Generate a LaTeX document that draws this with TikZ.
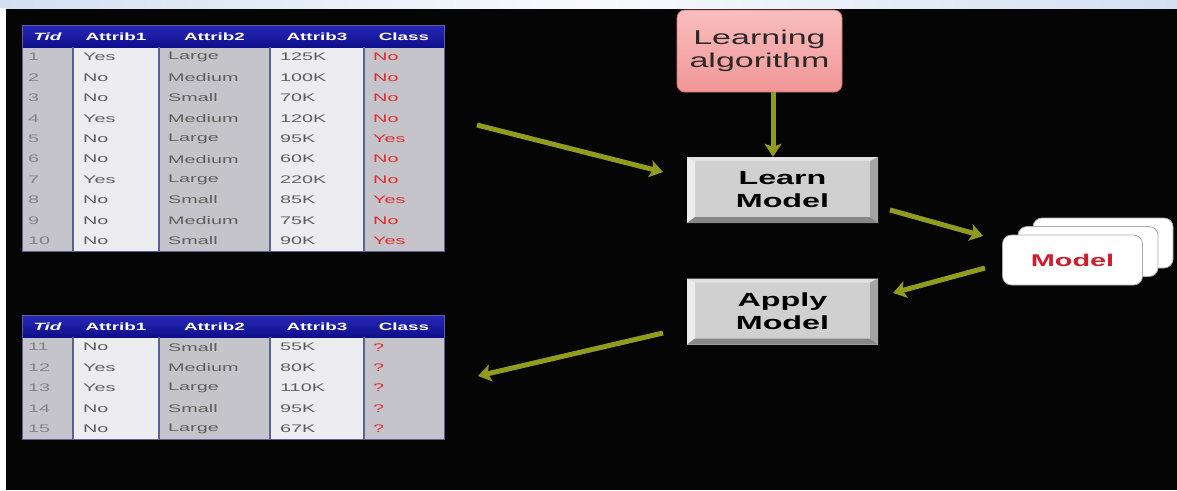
\documentclass[tikz,border=0pt]{standalone}
\usepackage{fontspec}
\setmainfont{Liberation Sans}[FakeStretch=1.7]
\newfontfamily\tabfont{Liberation Sans}[FakeStretch=1.8]
\usetikzlibrary{arrows.meta,calc}
\definecolor{bgblack}{RGB}{5,5,5}
\definecolor{topblue}{RGB}{210,224,242}
\definecolor{hdrtop}{RGB}{40,40,185}
\definecolor{hdrbot}{RGB}{15,15,140}
\definecolor{colgray}{RGB}{196,196,202}
\definecolor{collight}{RGB}{236,236,241}
\definecolor{sepcol}{RGB}{95,95,150}
\definecolor{celltext}{RGB}{95,95,95}
\definecolor{tidtext}{RGB}{130,130,135}
\definecolor{classred}{RGB}{225,45,45}
\definecolor{olivearr}{RGB}{145,155,30}
\definecolor{pinktop}{RGB}{250,190,190}
\definecolor{pinkbot}{RGB}{240,150,150}
\definecolor{pinkdraw}{RGB}{215,110,110}
\definecolor{algtext}{RGB}{45,40,40}
\definecolor{btnface}{RGB}{208,208,208}
\definecolor{btnleft}{RGB}{236,236,236}
\definecolor{btntop}{RGB}{225,225,225}
\definecolor{btnright}{RGB}{165,165,165}
\definecolor{btnbot}{RGB}{135,135,135}
\definecolor{cardedge}{RGB}{170,170,175}
\definecolor{modelred}{RGB}{205,30,45}
\tikzset{
  cell/.style={anchor=west, inner sep=0pt, text=celltext, font=\tabfont\fontsize{11}{13}\selectfont},
  tidcell/.style={cell, text=tidtext},
  classcell/.style={cell, text=classred},
  hdr/.style={inner sep=0pt, text=white, font=\tabfont\bfseries\fontsize{10.5}{12}\selectfont},
  sepline/.style={draw=sepcol, line width=1.2pt},
  tframe/.style={draw=sepcol, line width=1pt},
  arr/.style={draw=olivearr, line width=5pt, -{Stealth[length=13pt,width=17pt,inset=3pt]}},
  algbox/.style={minimum width=165pt, minimum height=82pt, rounded corners=8pt,
    top color=pinktop, bottom color=pinkbot, draw=pinkdraw, line width=0.8pt,
    align=center, text=algtext, font=\fontsize{20}{23}\selectfont},
  button/.style={minimum width=191pt, minimum height=66pt, fill=btnface, inner sep=0pt,
    align=center, text=black, font=\bfseries\fontsize{19}{23}\selectfont,
    path picture={
      \fill[btnleft] (path picture bounding box.north west) -- (path picture bounding box.south west)
        -- ($(path picture bounding box.south west)+(8pt,6pt)$) -- ($(path picture bounding box.north west)+(8pt,-4pt)$) -- cycle;
      \fill[btntop] (path picture bounding box.north west) -- (path picture bounding box.north east)
        -- ($(path picture bounding box.north east)+(-8pt,-4pt)$) -- ($(path picture bounding box.north west)+(8pt,-4pt)$) -- cycle;
      \fill[btnright] (path picture bounding box.north east) -- (path picture bounding box.south east)
        -- ($(path picture bounding box.south east)+(-8pt,6pt)$) -- ($(path picture bounding box.north east)+(-8pt,-4pt)$) -- cycle;
      \fill[btnbot] (path picture bounding box.south west) -- (path picture bounding box.south east)
        -- ($(path picture bounding box.south east)+(-8pt,6pt)$) -- ($(path picture bounding box.south west)+(8pt,6pt)$) -- cycle;
    }},
  card/.style={minimum width=140pt, minimum height=50pt, rounded corners=9pt, fill=white,
    draw=cardedge, line width=0.8pt, inner sep=0pt},
}
\newcommand\mytable[4]{%
  \pgfmathsetmacro\htop{#2}%
  \pgfmathsetmacro\hbot{#2+22}%
  \pgfmathsetmacro\tbot{#2+22+20.4*#3}%
  \fill[colgray] (22,\hbot) rectangle (73,\tbot);
  \fill[collight] (73,\hbot) rectangle (159,\tbot);
  \fill[colgray] (159,\hbot) rectangle (270,\tbot);
  \fill[collight] (270,\hbot) rectangle (364,\tbot);
  \fill[colgray] (364,\hbot) rectangle (444,\tbot);
  \shade[top color=hdrtop, bottom color=hdrbot] (22,\htop) rectangle (444,\hbot);
  \foreach \xx in {73,159,270,364} \draw[sepline] (\xx,\hbot) -- (\xx,\tbot);
  \draw[tframe] (22,\htop) rectangle (444,\tbot);
  \pgfmathsetmacro\hmid{#2+11.5}%
  \node[hdr, font=\tabfont\bfseries\itshape\fontsize{10.5}{12}\selectfont] (#1-h0) at (47.5,\hmid) {Tid};
  \node[hdr] (#1-h1) at (116,\hmid) {Attrib1};
  \node[hdr] (#1-h2) at (214.5,\hmid) {Attrib2};
  \node[hdr] (#1-h3) at (317,\hmid) {Attrib3};
  \node[hdr] (#1-h4) at (404,\hmid) {Class};
  \foreach \t/\a/\b/\c/\d [count=\i] in {#4} {
    \pgfmathsetmacro\ry{#2+22+20.4*(\i-0.5)}
    \node[tidcell] (#1-\i-t) at (28,\ry) {\t};
    \node[cell] (#1-\i-a) at (83,\ry) {\a};
    \node[cell] (#1-\i-b) at (168,\ry) {\b};
    \node[cell] (#1-\i-c) at (280,\ry) {\c};
    \node[classcell] (#1-\i-d) at (373,\ry) {\d};
  }
}
\begin{document}
\begin{tikzpicture}[x=1pt,y=-1pt]
\useasboundingbox (0,0) rectangle (1177,490);
% background
\fill[bgblack] (0,0) rectangle (1177,490);
\shade[left color=topblue, right color=topblue, middle color=white!85!topblue] (0,0) rectangle (1177,8);
\fill[white] (0,8) rectangle (6,490);

% tables
\mytable{ta}{25}{10}{1/Yes/Large/125K/No, 2/No/Medium/100K/No, 3/No/Small/70K/No, 4/Yes/Medium/120K/No, 5/No/Large/95K/Yes, 6/No/Medium/60K/No, 7/Yes/Large/220K/No, 8/No/Small/85K/Yes, 9/No/Medium/75K/No, 10/No/Small/90K/Yes}
\mytable{tb}{315}{5}{11/No/Small/55K/?, 12/Yes/Medium/80K/?, 13/Yes/Large/110K/?, 14/No/Small/95K/?, 15/No/Large/67K/?}

% boxes
\node[algbox] (alg) at (759.5,51) {Learning\\algorithm};
\node[button] (learn) at (782.5,190) {Learn\\Model};
\node[button] (apply) at (782.5,311.5) {Apply\\Model};

% model cards
\node[card] (m3) at (1103,243) {};
\node[card] (m2) at (1088,251.5) {};
\node[card, font=\bfseries\fontsize{17}{20}\selectfont, text=modelred] (model) at (1072.5,260) {Model};

% arrow end points
\coordinate (a1s) at (477,125);
\coordinate (a1e) at (663,172);
\coordinate (a2s) at (773,92);
\coordinate (a3s) at (890,210);
\coordinate (a3e) at (983,236);
\coordinate (a4s) at (985,268);
\coordinate (a4e) at (893,293);
\coordinate (a5s) at (663,333);
\coordinate (a5e) at (478,376);

% arrows
\draw[arr] (a1s) -- (a1e);
\draw[arr] (a2s) -- (a2s |- learn.north);
\draw[arr] (a3s) -- (a3e);
\draw[arr] (a4s) -- (a4e);
\draw[arr] (a5s) -- (a5e);
\end{tikzpicture}
\end{document}
